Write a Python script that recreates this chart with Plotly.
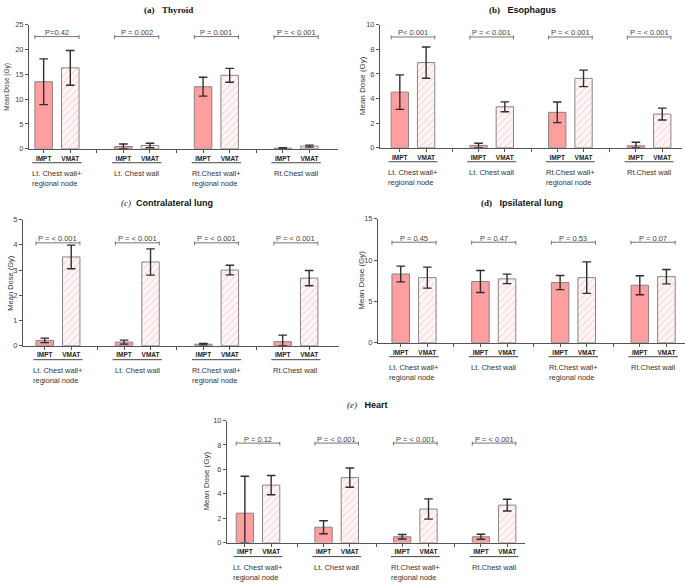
import plotly.graph_objects as go

# ---------------- data ----------------
groups = ["Lt. Chest wall+<br>regional node", "Lt. Chest wall",
          "Rt.Chest wall+<br>regional node", "Rt.Chest wall"]
techniques = ["IMPT", "VMAT"]

thyroid_impt = [13.5, 0.45, 12.5, 0.10]
thyroid_impt_sd = [4.6, 0.50, 1.9, 0.12]
thyroid_vmat = [16.3, 0.66, 14.8, 0.53]
thyroid_vmat_sd = [3.5, 0.45, 1.4, 0.20]
thyroid_p = ["P=0.42", "P = 0.002", "P = 0.001", "P = < 0.001"]

esophagus_impt = [4.52, 0.19, 2.88, 0.16]
esophagus_impt_sd = [1.40, 0.18, 0.84, 0.29]
esophagus_vmat = [6.92, 3.33, 5.64, 2.74]
esophagus_vmat_sd = [1.27, 0.40, 0.67, 0.48]
esophagus_p = ["P< 0.001", "P = < 0.001", "P = < 0.001", "P = < 0.001"]

contra_impt = [0.21, 0.14, 0.06, 0.16]
contra_impt_sd = [0.09, 0.08, 0.03, 0.26]
contra_vmat = [3.52, 3.32, 3.00, 2.68]
contra_vmat_sd = [0.47, 0.52, 0.19, 0.30]
contra_p = ["P = < 0.001", "P = < 0.001", "P = < 0.001", "P = < 0.001"]

ipsi_impt = [8.31, 7.40, 7.27, 6.95]
ipsi_impt_sd = [0.95, 1.33, 0.85, 1.15]
ipsi_vmat = [7.87, 7.72, 7.87, 7.99]
ipsi_vmat_sd = [1.27, 0.57, 1.90, 0.87]
ipsi_p = ["P = 0.45", "P = 0.47", "P = 0.53", "P = 0.07"]

heart_impt = [2.41, 1.26, 0.48, 0.48]
heart_impt_sd = [3.02, 0.53, 0.18, 0.21]
heart_vmat = [4.71, 5.32, 2.75, 3.07]
heart_vmat_sd = [0.79, 0.79, 0.83, 0.48]
heart_p = ["P = 0.12", "P = < 0.001", "P = < 0.001", "P = < 0.001"]

# ---------------- layout / style ----------------
W, H = 685, 587
OFF = 0.167     # bar offset from group centre (axis units)
BW = 0.22       # bar width (axis units)
SERIF = "Liberation Serif"

IMPT_COLOR = "#FF9E9E"
VMAT_BG = "#FFF7F7"
VMAT_HATCH = "#F6BFBF"
EDGE = "#858585"
ERR = "#2f2f2f"
AX = "#555555"

panels = [
    dict(title="<span style='font-family:%s'><b>(a)</b></span>&nbsp;&nbsp;&nbsp;<span style='font-family:%s'><b>Thyroid</b></span>" % (SERIF, SERIF),
         impt=thyroid_impt, impt_sd=thyroid_impt_sd, vmat=thyroid_vmat, vmat_sd=thyroid_vmat_sd, p=thyroid_p,
         box=(29, 338, 21, 147), xr=(-0.351, 3.526), ymax=25, dtick=5, plevel=22.6,
         tpos=(168, 6), ylab_x=7, ylab_size=6.5),
    dict(title="<span style='font-family:%s'><b>(b)</b></span>&nbsp;&nbsp;&nbsp;<b>Esophagus</b>" % SERIF,
         impt=esophagus_impt, impt_sd=esophagus_impt_sd, vmat=esophagus_vmat, vmat_sd=esophagus_vmat_sd, p=esophagus_p,
         box=(380, 682, 21, 146), xr=(-0.419, 3.418), ymax=10, dtick=2, plevel=9.0,
         tpos=(522, 6), ylab_x=362, ylab_size=8),
    dict(title="<span style='font-family:%s'><i>(c)</i></span>&nbsp;&nbsp;<b>Contralateral lung</b>" % SERIF,
         impt=contra_impt, impt_sd=contra_impt_sd, vmat=contra_vmat, vmat_sd=contra_vmat_sd, p=contra_p,
         box=(23, 339, 219, 347), xr=(-0.441, 3.543), ymax=5, dtick=1, plevel=4.08,
         tpos=(167, 202), ylab_x=11, ylab_size=7.5),
    dict(title="<span style='font-family:%s'><b>(d)</b></span>&nbsp;&nbsp;&nbsp;<b>Ipsilateral lung</b>" % SERIF,
         impt=ipsi_impt, impt_sd=ipsi_impt_sd, vmat=ipsi_vmat, vmat_sd=ipsi_vmat_sd, p=ipsi_p,
         box=(378, 685, 218, 344), xr=(-0.452, 3.40), ymax=15, dtick=5, plevel=12.15,
         tpos=(522, 202), ylab_x=362, ylab_size=8),
    dict(title="<span style='font-family:%s'><i>(e)</i></span>&nbsp;&nbsp;&nbsp;<b>Heart</b>" % SERIF,
         impt=heart_impt, impt_sd=heart_impt_sd, vmat=heart_vmat, vmat_sd=heart_vmat_sd, p=heart_p,
         box=(227, 525, 423, 547), xr=(-0.394, 3.393), ymax=10, dtick=2, plevel=8.15,
         tpos=(367, 407), ylab_x=207, ylab_size=8),
]

fig = go.Figure()
shapes, annotations = [], []
layout = {}

for i, pn in enumerate(panels, start=1):
    sfx = "" if i == 1 else str(i)
    xa, ya = "x" + sfx, "y" + sfx
    gidx = list(range(len(groups)))
    x_impt = [g - OFF for g in gidx]
    x_vmat = [g + OFF for g in gidx]

    fig.add_trace(go.Bar(
        x=x_impt, y=pn["impt"], width=BW, xaxis=xa, yaxis=ya, name=techniques[0], showlegend=False,
        marker=dict(color=IMPT_COLOR, line=dict(color=EDGE, width=1)),
        error_y=dict(type="data", symmetric=False, array=pn["impt_sd"],
                     arrayminus=[min(s, m) for s, m in zip(pn["impt_sd"], pn["impt"])],
                     color=ERR, thickness=1.4, width=4.3)))
    fig.add_trace(go.Bar(
        x=x_vmat, y=pn["vmat"], width=BW, xaxis=xa, yaxis=ya, name=techniques[1], showlegend=False,
        marker=dict(color=VMAT_BG, line=dict(color=EDGE, width=1),
                    pattern=dict(shape="/", fgcolor=VMAT_HATCH, bgcolor=VMAT_BG, size=5, solidity=0.3)),
        error_y=dict(type="data", symmetric=False, array=pn["vmat_sd"],
                     arrayminus=[min(s, m) for s, m in zip(pn["vmat_sd"], pn["vmat"])],
                     color=ERR, thickness=1.4, width=4.3)))

    l, r, t, b = pn["box"]
    tickvals, ticktext = [], []
    for g in gidx:
        tickvals += [g - OFF, g + OFF]
        ticktext += ["<b>%s</b>" % techniques[0], "<b>%s</b>" % techniques[1]]
    for g in gidx[:-1]:
        tickvals.append(g + 0.5)
        ticktext.append("")

    layout["xaxis" + sfx] = dict(
        domain=[l / W, r / W], range=list(pn["xr"]), anchor=ya, showgrid=False, zeroline=False,
        showline=True, linecolor=AX, linewidth=1, ticks="outside", ticklen=3, tickcolor=AX,
        tickvals=tickvals, ticktext=ticktext, tickfont=dict(size=6.5, color="#222"), fixedrange=True)
    layout["yaxis" + sfx] = dict(
        domain=[1 - b / H, 1 - t / H], range=[0, pn["ymax"]], dtick=pn["dtick"], anchor=xa,
        showgrid=False, zeroline=False, showline=True, linecolor=AX, linewidth=1,
        ticks="outside", ticklen=3, tickcolor=AX, tickfont=dict(size=7.5, color="#444"),
        fixedrange=True)

    # title
    annotations.append(dict(text=pn["title"], xref="paper", yref="paper",
                            x=pn["tpos"][0] / W, y=1 - pn["tpos"][1] / H, showarrow=False,
                            xanchor="center", yanchor="middle", font=dict(size=9, color="#111")))
    # y axis label
    annotations.append(dict(text="Mean Dose (Gy)", xref="paper", yref="paper",
                            x=pn["ylab_x"] / W, y=1 - (t + b) / 2 / H, textangle=-90, showarrow=False,
                            xanchor="center", yanchor="middle", font=dict(size=pn["ylab_size"], color="#333")))

    for g in gidx:
        # group underline
        shapes.append(dict(type="line", xref=xa, yref=ya + " domain", x0=g - 0.31, x1=g + 0.31,
                           ysizemode="pixel", yanchor=0, y0=-14, y1=-14,
                           line=dict(color="#444", width=1)))
        # group label
        annotations.append(dict(text=groups[g], xref=xa, yref=ya + " domain", x=g, y=0,
                                yshift=-18, xanchor="center", yanchor="top", align="left",
                                showarrow=False, font=dict(size=7.5, color="#333")))
        # p-value bracket
        x0, x1 = g - OFF - BW / 2, g + OFF + BW / 2
        shapes.append(dict(type="line", xref=xa, yref=ya, x0=x0, x1=x1, y0=pn["plevel"], y1=pn["plevel"],
                           line=dict(color="#666", width=0.9)))
        for xe in (x0, x1):
            shapes.append(dict(type="line", xref=xa, yref=ya, x0=xe, x1=xe, ysizemode="pixel",
                               yanchor=pn["plevel"], y0=-2.5, y1=1.5, line=dict(color="#666", width=0.9)))
        annotations.append(dict(text=pn["p"][g], xref=xa, yref=ya, x=g, y=pn["plevel"], yshift=4,
                                xanchor="center", yanchor="middle", showarrow=False,
                                font=dict(size=7.5, color="#444")))

fig.update_layout(
    width=W, height=H, margin=dict(l=0, r=0, t=0, b=0),
    paper_bgcolor="white", plot_bgcolor="white",
    font=dict(family="Liberation Sans", color="#333"),
    showlegend=False, hovermode=False, shapes=shapes, annotations=annotations, **layout)

fig.write_html("out.html", config={"displayModeBar": False},
               post_script="document.body.style.margin='0';")
